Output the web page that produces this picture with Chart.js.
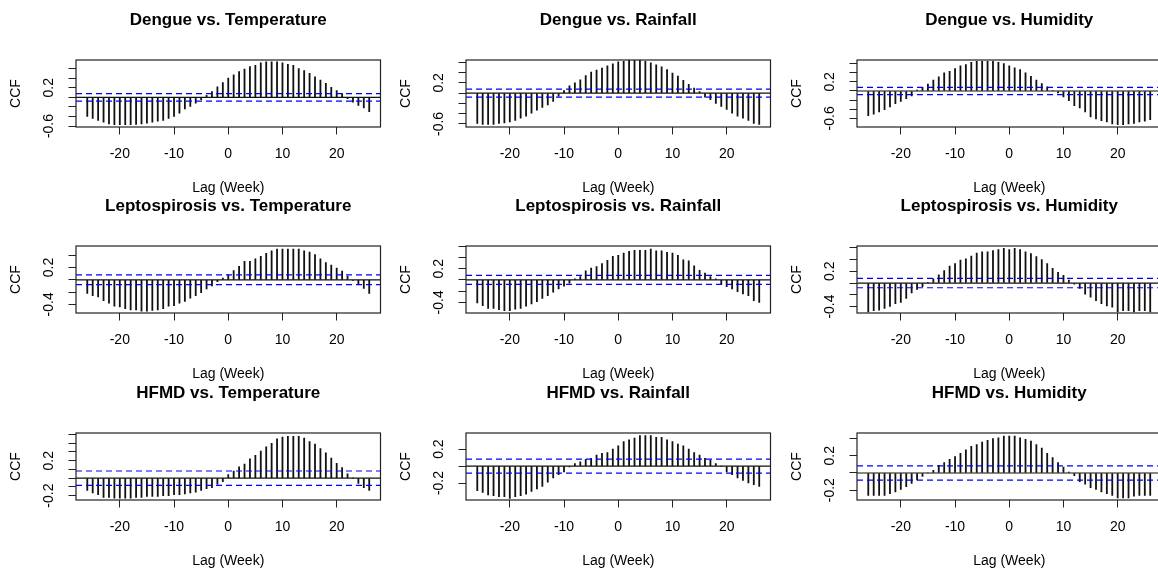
<!DOCTYPE html>
<html><head><meta charset="utf-8">
<script src="https://cdn.jsdelivr.net/npm/chart.js@4.4.1/dist/chart.umd.min.js"></script>
<style>
html,body{margin:0;padding:0;background:#fff;overflow:hidden;}
#wrap{position:relative;width:1158px;height:572px;overflow:hidden;background:#fff;}
canvas{position:absolute;}
</style></head><body><div id="wrap"></div>
<script>
// ---------- data ----------
const lags = [-26,-25,-24,-23,-22,-21,-20,-19,-18,-17,-16,-15,-14,-13,-12,-11,-10,-9,-8,-7,-6,-5,-4,-3,-2,-1,
  0,1,2,3,4,5,6,7,8,9,10,11,12,13,14,15,16,17,18,19,20,21,22,23,24,25,26];
const xTicks = [-20,-10,0,10,20];
const titles = ["Dengue vs. Temperature","Dengue vs. Rainfall","Dengue vs. Humidity",
  "Leptospirosis vs. Temperature","Leptospirosis vs. Rainfall","Leptospirosis vs. Humidity",
  "HFMD vs. Temperature","HFMD vs. Rainfall","HFMD vs. Humidity"];
const xLabel = "Lag (Week)";
const yLabel = "CCF";

const dengueTemp = [-0.40,-0.44,-0.485,-0.52,-0.555,-0.57,-0.57,-0.57,-0.57,-0.565,-0.555,-0.54,-0.52,-0.50,-0.48,-0.44,-0.40,-0.33,-0.24,-0.19,-0.12,-0.05,0.04,0.12,0.22,0.31,
  0.40,0.47,0.54,0.59,0.64,0.67,0.72,0.74,0.74,0.74,0.72,0.69,0.67,0.60,0.56,0.50,0.43,0.36,0.29,0.21,0.14,0.08,-0.03,-0.10,-0.17,-0.22,-0.30];
const dengueRain = [-0.59,-0.61,-0.61,-0.61,-0.59,-0.58,-0.56,-0.53,-0.49,-0.45,-0.39,-0.33,-0.28,-0.23,-0.16,-0.06,0.05,0.14,0.20,0.26,0.34,0.41,0.45,0.49,0.53,0.57,
  0.61,0.62,0.64,0.64,0.64,0.62,0.59,0.55,0.51,0.46,0.39,0.33,0.25,0.17,0.10,0.03,-0.08,-0.13,-0.20,-0.26,-0.32,-0.39,-0.45,-0.49,-0.53,-0.59,-0.61];
const dengueHum = [-0.54,-0.51,-0.46,-0.41,-0.35,-0.28,-0.23,-0.17,-0.11,0.02,0.08,0.15,0.24,0.31,0.40,0.43,0.49,0.55,0.58,0.63,0.65,0.65,0.65,0.65,0.63,0.60,
  0.55,0.51,0.47,0.40,0.32,0.24,0.16,0.09,0.01,-0.04,-0.13,-0.21,-0.32,-0.37,-0.46,-0.57,-0.61,-0.65,-0.68,-0.72,-0.74,-0.74,-0.72,-0.71,-0.68,-0.66,-0.63];
const leptoTemp = [-0.22,-0.26,-0.28,-0.34,-0.38,-0.43,-0.44,-0.47,-0.49,-0.49,-0.51,-0.51,-0.50,-0.49,-0.47,-0.43,-0.42,-0.38,-0.35,-0.30,-0.26,-0.21,-0.15,-0.10,-0.03,0.03,
  0.08,0.15,0.22,0.30,0.30,0.34,0.38,0.43,0.47,0.50,0.50,0.50,0.50,0.50,0.47,0.45,0.41,0.34,0.28,0.24,0.19,0.14,0.06,-0.01,-0.08,-0.14,-0.22];
const leptoRain = [-0.41,-0.46,-0.51,-0.51,-0.53,-0.55,-0.55,-0.52,-0.51,-0.47,-0.43,-0.39,-0.33,-0.28,-0.22,-0.16,-0.11,-0.06,0.02,0.06,0.16,0.21,0.24,0.29,0.35,0.42,
  0.44,0.48,0.51,0.53,0.53,0.53,0.55,0.52,0.52,0.49,0.48,0.44,0.36,0.34,0.25,0.17,0.12,0.06,0.02,-0.08,-0.12,-0.16,-0.21,-0.25,-0.28,-0.37,-0.40];
const leptoHum = [-0.49,-0.47,-0.46,-0.43,-0.40,-0.35,-0.33,-0.26,-0.17,-0.11,-0.06,0.01,0.07,0.14,0.21,0.29,0.33,0.39,0.41,0.46,0.51,0.53,0.53,0.55,0.57,0.59,
  0.57,0.59,0.57,0.53,0.50,0.45,0.40,0.33,0.25,0.18,0.13,0.05,-0.02,-0.09,-0.19,-0.24,-0.30,-0.35,-0.39,-0.41,-0.49,-0.47,-0.47,-0.49,-0.47,-0.47,-0.49];
const hfmdTemp = [-0.14,-0.17,-0.19,-0.22,-0.22,-0.23,-0.23,-0.23,-0.23,-0.22,-0.22,-0.21,-0.21,-0.21,-0.20,-0.20,-0.19,-0.19,-0.18,-0.17,-0.16,-0.14,-0.12,-0.11,-0.07,-0.04,
  0.04,0.08,0.13,0.16,0.22,0.26,0.31,0.36,0.40,0.45,0.47,0.48,0.48,0.48,0.46,0.42,0.39,0.34,0.29,0.23,0.17,0.12,0.05,0.00,-0.06,-0.11,-0.14];
const hfmdRain = [-0.29,-0.31,-0.34,-0.35,-0.36,-0.36,-0.38,-0.36,-0.35,-0.33,-0.30,-0.27,-0.24,-0.19,-0.14,-0.10,-0.07,-0.01,0.03,0.05,0.08,0.09,0.13,0.15,0.16,0.20,
  0.24,0.29,0.31,0.33,0.36,0.36,0.36,0.34,0.34,0.31,0.29,0.26,0.24,0.20,0.16,0.13,0.09,0.07,0.03,0.00,-0.07,-0.10,-0.14,-0.17,-0.20,-0.22,-0.24];
const hfmdHum = [-0.26,-0.26,-0.26,-0.26,-0.24,-0.22,-0.19,-0.16,-0.12,-0.08,-0.04,0.00,0.03,0.09,0.12,0.16,0.19,0.23,0.27,0.31,0.33,0.36,0.38,0.40,0.41,0.43,
  0.43,0.43,0.41,0.39,0.37,0.33,0.29,0.23,0.18,0.12,0.07,0.01,-0.03,-0.10,-0.13,-0.17,-0.19,-0.22,-0.24,-0.26,-0.29,-0.29,-0.29,-0.27,-0.26,-0.26,-0.26];

const seriesList = [dengueTemp, dengueRain, dengueHum, leptoTemp, leptoRain, leptoHum, hfmdTemp, hfmdRain, hfmdHum];
const clims = [0.078,0.078,0.078,0.080,0.080,0.080,0.082,0.082,0.082];

const yMins = [-0.62,-0.66,-0.79,-0.54,-0.59,-0.51,-0.25,-0.40,-0.314];
const yMaxs = [0.78,0.645,0.68,0.55,0.605,0.63,0.517,0.39,0.465];
const yTicks6 = [-0.6,-0.4,-0.2,0,0.2,0.4,0.6];
const yTicks4 = [-0.4,-0.2,0,0.2,0.4];
const yTicks46 = [-0.4,-0.2,0,0.2,0.4,0.6];
const yTicks1 = [-0.2,-0.1,0,0.1,0.2,0.3,0.4,0.5];
const yTicks2 = [-0.2,0,0.2];
const yTicks24 = [-0.2,0,0.2,0.4];
const yTickSets = [yTicks6,yTicks6,yTicks6,yTicks4,yTicks46,yTicks46,yTicks1,yTicks2,yTicks24];
const yLabelSets = [[-0.6,0.2],[-0.6,0.2],[-0.6,0.2],[-0.4,0.2],[-0.4,0.2],[-0.4,0.2],[-0.2,0.2],[-0.2,0.2],[-0.2,0.2]];

const xMin = -28.08, xMax = 28.08;

// ---------- layout ----------
const colLefts = [0,390,781];
const rowTops = [0,186,373];
const CW = 390, CH = 205;
const BOX_LEFT = 76, BOX_BOTTOM = 127;
const FONT = "'Liberation Sans', Arial, sans-serif";

const framePlugin = {
  id: 'frame',
  afterDatasetsDraw(chart) {
    const {ctx, chartArea: a} = chart;
    ctx.save();
    ctx.strokeStyle = '#222';
    ctx.lineWidth = 1.2;
    ctx.strokeRect(a.left, a.top, a.right - a.left, a.bottom - a.top);
    ctx.restore();
  }
};

const wrap = document.getElementById('wrap');
seriesList.forEach((vals, i) => {
  const col = i % 3, row = Math.floor(i / 3);
  const cv = document.createElement('canvas');
  cv.width = CW; cv.height = CH;
  cv.style.width = CW + 'px'; cv.style.height = CH + 'px';
  cv.style.left = colLefts[col] + 'px'; cv.style.top = rowTops[row] + 'px';
  wrap.appendChild(cv);
  const clim = clims[i];
  const labs = yLabelSets[i];
  const tickSet = yTickSets[i];
  new Chart(cv, {
    type: 'bar',
    data: {
      datasets: [
        {type:'line', data:[{x:xMin,y:0},{x:xMax,y:0}], borderColor:'#111', borderWidth:1.2, pointRadius:0, order:0},
        {type:'line', data:[{x:xMin,y:clim},{x:xMax,y:clim}], borderColor:'#0000ff', borderWidth:1.2, borderDash:[6,4], pointRadius:0, order:0},
        {type:'line', data:[{x:xMin,y:-clim},{x:xMax,y:-clim}], borderColor:'#0000ff', borderWidth:1.2, borderDash:[6,4], pointRadius:0, order:0},
        {type:'bar', data: lags.map((l, k) => ({x:l, y:vals[k]})), backgroundColor:'#111', borderWidth:0, barThickness:1.15, order:1}
      ]
    },
    options: {
      responsive:false, animation:false, events:[],
      layout:{padding:{left:0, right:9.5, top:0, bottom:0}},
      plugins:{
        legend:{display:false}, tooltip:{enabled:false},
        title:{display:true, fullSize:false, text:titles[i], color:'#000', font:{family:FONT, size:17, weight:'bold'}, padding:{top:10.4, bottom:29.2}}
      },
      scales:{
        x:{
          type:'linear', min:xMin, max:xMax, offset:false,
          afterBuildTicks: s => { s.ticks = xTicks.map(v => ({value:v})); },
          afterFit: s => { s.height = CH - BOX_BOTTOM; },
          grid:{drawOnChartArea:false, drawTicks:true, tickLength:7.5, color:'#222', lineWidth:1, offset:false},
          border:{display:false},
          ticks:{font:{family:FONT, size:14}, color:'#000', padding:11.1, autoSkip:false, maxRotation:0, minRotation:0, callback: v => String(v)},
          title:{display:true, text:xLabel, color:'#000', font:{family:FONT, size:14}, padding:{top:0, bottom:8.1}}
        },
        y:{
          type:'linear', min:yMins[i], max:yMaxs[i],
          afterBuildTicks: s => { s.ticks = tickSet.map(v => ({value:v})); },
          afterFit: s => { s.width = BOX_LEFT; },
          grid:{drawOnChartArea:false, drawTicks:true, tickLength:7.5, color:'#222', lineWidth:1},
          border:{display:false},
          ticks:{font:{family:FONT, size:14}, color:'#000', padding:7.4, autoSkip:false, minRotation:90, maxRotation:90, crossAlign:'center',
            callback: v => labs.some(l => Math.abs(l - v) < 1e-9) ? Number(v).toFixed(1) : ''},
          title:{display:true, text:yLabel, color:'#000', font:{family:FONT, size:14}, padding:{top:8.1, bottom:0}}
        }
      }
    },
    plugins:[framePlugin]
  });
});
</script></body></html>
